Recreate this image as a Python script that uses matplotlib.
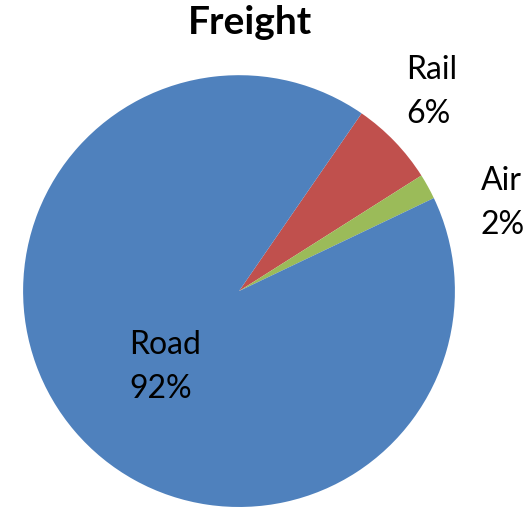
import matplotlib.pyplot as plt

plt.rcParams['font.family'] = ['Lato', 'DejaVu Sans']

# freight modal split (share of total)
modes = ['Rail', 'Air', 'Road']
shares = [6.4, 1.9, 91.7]
colors = ['#C0504D', '#9BBB59', '#4F81BD']
# label anchor (data units, upper-left of text block)
label_pos = [(0.775, 1.095), (1.12, 0.58), (-0.51, -0.18)]

fig = plt.figure(figsize=(5.31, 5.08), dpi=100)
ax = fig.add_axes([0.0433, 0.002, 0.8136, 0.850])

ax.pie(shares, colors=colors, startangle=55.4, counterclock=False,
       radius=1, wedgeprops=dict(linewidth=0))
ax.set_xlim(-1, 1)
ax.set_ylim(-1, 1)
ax.set_aspect('equal')
ax.axis('off')

for m, s, (x, y) in zip(modes, shares, label_pos):
    ax.text(x, y, f'{m}\n{round(s):d}%', ha='left', va='top',
            fontsize=23, linespacing=1.6, color='black')

fig.text(0.47, 0.99, 'Freight', ha='center', va='top',
         fontsize=28, fontweight='bold')

fig.savefig('out.png', dpi=100)
